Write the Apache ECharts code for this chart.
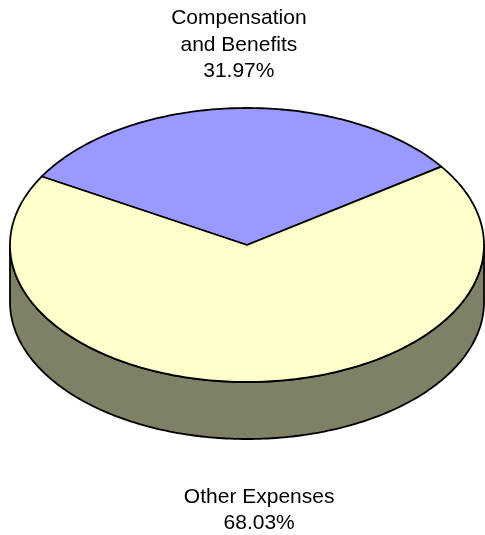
<!DOCTYPE html>
<html>
<head>
<meta charset="utf-8">
<script src="https://cdn.jsdelivr.net/npm/echarts@6/dist/echarts.min.js"></script>
<style>
html,body{margin:0;padding:0;background:#fff;}
#chart{width:485px;height:535px;}
</style>
</head>
<body>
<div id="chart"></div>
<script>
const categories = ['Compensation and Benefits', 'Other Expenses'];
const labelLines = [['Compensation', 'and Benefits'], ['Other Expenses']];
const values = [31.97, 68.03];
const topColors = ['#9999FF', '#FFFFCC'];
const sideColors = ['#4D4D80', '#808066'];

const CX = 247, CY = 245, RX = 237, RY = 137, DEPTH = 57, START = 150;
const total = values.reduce((a, b) => a + b, 0);
const angles = [];
let acc = START;
values.forEach(v => {
  const span = v / total * 360;
  angles.push([acc, acc - span]);
  acc -= span;
});

function pt(deg, dy) {
  const r = deg * Math.PI / 180;
  return [CX + RX * Math.cos(r), CY - RY * Math.sin(r) + (dy || 0)];
}
function arc(a0, a1, dy) {
  const pts = [];
  const n = Math.max(2, Math.ceil(Math.abs(a1 - a0)));
  for (let k = 0; k <= n; k++) pts.push(pt(a0 + (a1 - a0) * k / n, dy));
  return pts;
}

function renderItem(params, api) {
  const i = params.dataIndex;
  const a0 = angles[i][0], a1 = angles[i][1];
  const children = [];
  for (let base = -720; base <= 360; base += 360) {
    const lo = Math.max(a1, base - 180), hi = Math.min(a0, base);
    if (hi > lo) {
      const top = arc(hi, lo, 0);
      const bot = arc(lo, hi, DEPTH);
      children.push({
        type: 'polygon', z2: 1,
        shape: { points: top.concat(bot) },
        style: { fill: sideColors[i], stroke: '#000', lineWidth: 1.8, lineJoin: 'round' }
      });
    }
  }
  const pts = [[CX, CY]].concat(arc(a0, a1, 0));
  children.push({
    type: 'polygon', z2: 10,
    shape: { points: pts },
    style: { fill: topColors[i], stroke: '#000', lineWidth: 1.8, lineJoin: 'round' }
  });
  const mid = (a0 + a1) / 2;
  const s = Math.sin(mid * Math.PI / 180);
  const p = pt(mid, 0);
  const pct = (api.value(1) / total * 100).toFixed(2) + '%';
  const txt = labelLines[i].concat([pct]).join('\n');
  const y = s >= 0 ? CY - RY - 63 : CY + RY + DEPTH + 71;
  children.push({
    type: 'text', z2: 20,
    style: {
      text: txt, x: p[0] + 2, y: y,
      align: 'center', verticalAlign: 'middle',
      fontFamily: '"Liberation Sans", Arial, sans-serif', fontSize: 21,
      lineHeight: 26.5, fill: '#000'
    }
  });
  return { type: 'group', children: children };
}

const chart = echarts.init(document.getElementById('chart'), null, { renderer: 'canvas' });
chart.setOption({
  animation: false,
  series: [{
    type: 'custom',
    coordinateSystem: 'none',
    renderItem: renderItem,
    data: values.map((v, i) => ({ name: categories[i], value: [i, v] }))
  }]
});
</script>
</body>
</html>
